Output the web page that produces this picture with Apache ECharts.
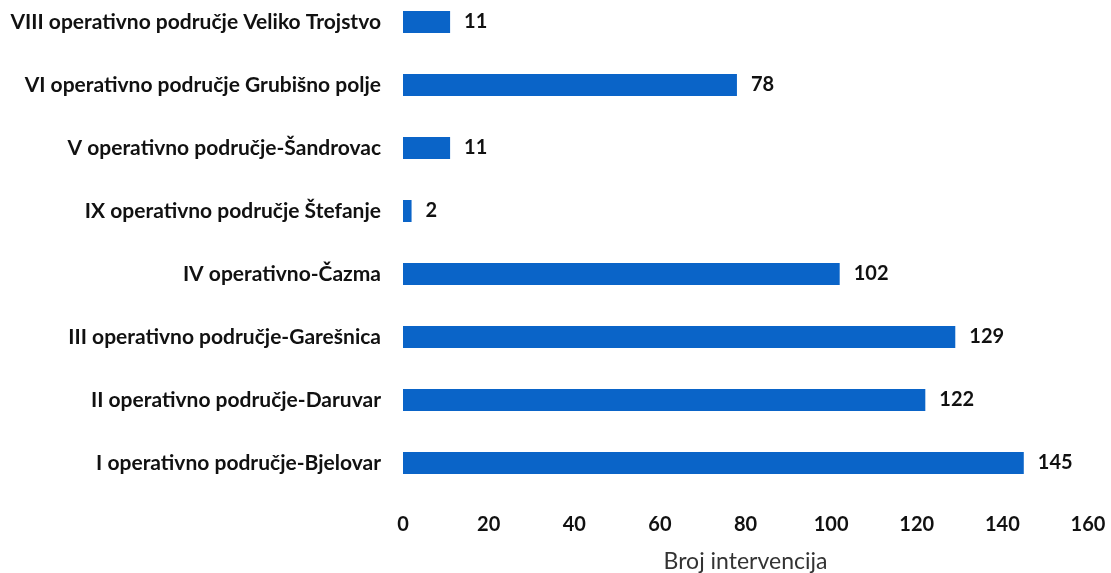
<!DOCTYPE html>
<html>
<head>
<meta charset="utf-8">
<script src="https://cdn.jsdelivr.net/npm/echarts@6/dist/echarts.min.js"></script>
<style>html,body{margin:0;padding:0;background:#fff;}#c{width:1111px;height:573px;}</style>
</head>
<body>
<div id="c"></div>
<script>
const categories = [
  "I operativno područje-Bjelovar",
  "II operativno područje-Daruvar",
  "III operativno područje-Garešnica",
  "IV operativno-Čazma",
  "IX operativno područje Štefanje",
  "V operativno područje-Šandrovac",
  "VI operativno područje Grubišno polje",
  "VIII operativno područje Veliko Trojstvo"
];
const values = [145, 122, 129, 102, 2, 11, 78, 11];
const axisTicks = [0, 20, 40, 60, 80, 100, 120, 140, 160];
const axisTitle = "Broj intervencija";

const chart = echarts.init(document.getElementById('c'));
chart.setOption({
  animation: false,
  backgroundColor: '#fff',
  grid: { left: 403, right: 23, top: -9.5, bottom: 78.5, containLabel: false, outerBoundsMode: 'none' },
  xAxis: {
    type: 'value',
    min: axisTicks[0],
    max: axisTicks[axisTicks.length - 1],
    interval: axisTicks[1] - axisTicks[0],
    axisLine: { show: false },
    axisTick: { show: false },
    splitLine: { show: false },
    axisLabel: { color: '#111', fontFamily: 'Lato', fontSize: 20, fontWeight: 'bold', margin: 20 },
    name: axisTitle,
    nameLocation: 'middle',
    nameGap: 56,
    nameTextStyle: { color: '#333', fontFamily: 'Lato', fontSize: 23 }
  },
  yAxis: {
    type: 'category',
    data: categories,
    axisLine: { show: false },
    axisTick: { show: false },
    axisLabel: { color: '#111', fontFamily: 'Lato', fontSize: 21, fontWeight: 'bold', margin: 22 }
  },
  series: [{
    type: 'bar',
    data: values,
    barWidth: 22,
    itemStyle: { color: '#0a64c8' },
    label: {
      show: true,
      position: 'right',
      distance: 14,
      color: '#111',
      fontFamily: 'Lato',
      fontSize: 20,
      fontWeight: 'bold'
    }
  }]
});
</script>
</body>
</html>
